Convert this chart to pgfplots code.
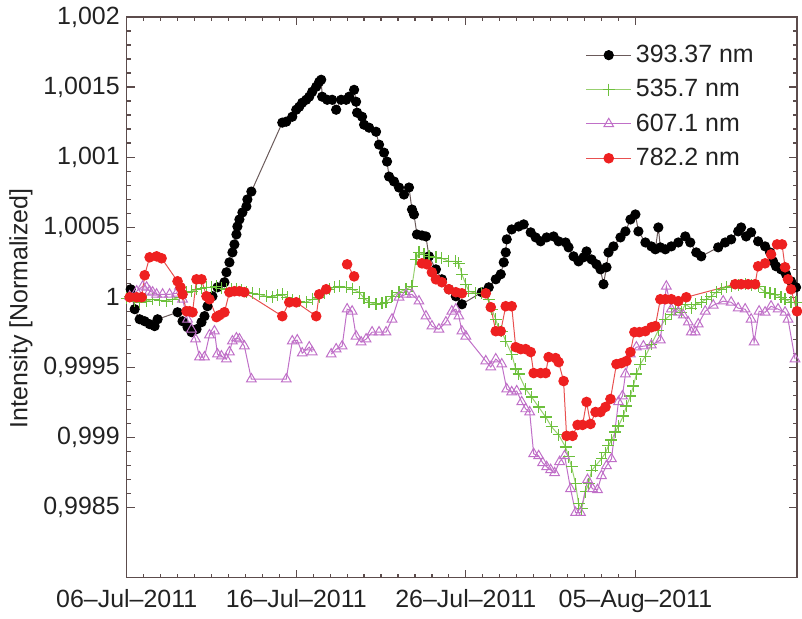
\documentclass[border=0pt]{standalone}
\usepackage{fontspec}
\setmainfont{Liberation Sans}
\usepackage{pgfplots}
\usepackage{pgfplotstable}
\pgfplotsset{compat=1.18}

\definecolor{axisgray}{HTML}{5C4C4C}
\definecolor{blkline}{HTML}{6A5A5A}
\definecolor{grnmark}{HTML}{6CC03C}
\definecolor{grnline}{HTML}{98D070}
\definecolor{vio}{HTML}{C070C8}
\definecolor{redmark}{HTML}{EE2020}
\definecolor{redline}{HTML}{E85050}
\definecolor{txt}{HTML}{222222}

% x = days since 06-Jul-2011, y = normalized intensity
\pgfplotstableread{
x y
0.235 1.000057
0.471 0.999915
0.765 0.999843
1.059 0.999829
1.353 0.999808
1.647 0.999794
1.824 0.999843
3.0 0.999893
3.294 0.999829
3.588 0.999786
3.824 0.999751
4.118 0.999772
4.412 0.999822
4.588 0.999865
4.765 0.999936
5.059 1.000007
5.353 1.000071
5.765 1.000107
5.882 1.000178
6.059 1.000249
6.235 1.000320
6.353 1.000377
6.471 1.000448
6.529 1.000505
6.647 1.000555
6.824 1.000605
7.059 1.000648
7.118 1.000698
7.353 1.000754
9.176 1.001246
9.412 1.001253
9.765 1.001288
10.0 1.001338
10.176 1.001359
10.353 1.001388
10.588 1.001409
10.765 1.001431
10.941 1.001466
11.176 1.001502
11.353 1.001537
11.471 1.001552
11.529 1.001431
11.824 1.001409
12.118 1.001409
12.353 1.001338
12.647 1.001409
12.941 1.001409
13.118 1.001431
13.412 1.001480
13.529 1.001395
13.588 1.001317
13.882 1.001288
14.0 1.001231
14.294 1.001210
14.706 1.001181
14.882 1.001089
15.176 1.001032
15.353 1.000968
15.471 1.000861
15.765 1.000826
16.059 1.000783
16.353 1.000733
16.647 1.000783
16.824 1.000626
16.941 1.000591
17.118 1.000448
17.412 1.000441
17.647 1.000434
17.824 1.000292
18.235 1.000199
18.588 1.000128
19.0 1.000057
19.412 1.000007
19.765 0.999950
20.941 1.000036
21.353 1.000071
21.765 1.000128
22.059 1.000164
22.235 1.000249
22.353 1.000320
22.412 1.000413
22.706 1.000484
23.118 1.000505
23.412 1.000520
23.824 1.000463
24.118 1.000427
24.412 1.000399
24.765 1.000427
25.176 1.000434
25.471 1.000399
25.882 1.000391
26.059 1.000356
26.353 1.000292
26.647 1.000256
26.941 1.000285
27.118 1.000327
27.412 1.000270
27.706 1.000235
27.941 1.000199
28.118 1.000093
28.294 1.000214
28.412 1.000320
28.706 1.000363
29.118 1.000427
29.412 1.000470
29.706 1.000555
30.0 1.000591
30.176 1.000470
30.588 1.000391
30.941 1.000363
31.176 1.000342
31.353 1.000498
31.471 1.000356
31.765 1.000342
32.118 1.000363
32.529 1.000391
32.941 1.000434
33.235 1.000391
33.588 1.000320
33.882 1.000292
34.882 1.000356
35.294 1.000391
35.647 1.000413
36.059 1.000470
36.235 1.000498
36.529 1.000434
36.824 1.000463
37.235 1.000399
37.647 1.000363
37.941 1.000320
38.118 1.000256
38.294 1.000221
38.588 1.000199
38.882 1.000164
39.176 1.000114
39.471 1.000071
}\caline

\pgfplotstableread{
x y
0 0.999993
0.176 1.000007
0.471 0.999972
0.765 0.999964
1.176 0.999972
1.529 0.999986
1.941 0.999979
2.353 0.999972
2.706 0.999986
3.118 1.0
3.529 1.000036
3.824 1.000043
4.118 1.000057
4.412 1.000064
4.706 1.000071
5.0 1.000071
5.294 1.000078
5.588 1.000064
5.882 1.000057
6.176 1.000057
6.471 1.000057
6.765 1.000050
7.059 1.000036
7.412 1.000028
7.824 1.000021
8.235 1.000007
8.588 1.0
8.882 1.000014
9.176 1.000021
9.471 1.0
9.765 0.999979
10.176 0.999972
10.588 0.999964
10.941 0.999986
11.353 1.0
11.647 1.000028
11.941 1.000057
12.235 1.000071
12.529 1.000078
12.941 1.000071
13.294 1.000057
13.706 1.000036
14.0 0.999993
14.294 0.999964
14.706 0.999950
15.059 0.999957
15.294 0.999964
15.647 1.000007
16.059 1.000036
16.471 1.000057
16.824 1.000078
17.059 1.000270
17.235 1.000320
17.529 1.000306
17.824 1.000292
18.235 1.000285
18.588 1.000278
19.0 1.000256
19.412 1.000256
19.588 1.000242
19.765 1.000164
20.0 1.000093
20.176 1.000043
20.588 1.000028
20.941 1.000028
21.353 0.999986
21.529 0.999915
21.765 0.999843
21.941 0.999772
22.118 0.999758
22.353 0.999687
22.706 0.999594
22.941 0.999488
23.118 0.999452
23.529 0.999345
23.882 0.999288
24.294 0.999217
24.706 0.999146
25.059 0.999075
25.471 0.999018
25.882 0.998932
26.059 0.998861
26.235 0.998790
26.471 0.998669
26.647 0.998527
26.824 0.998491
27.059 0.998612
27.235 0.998669
27.412 0.998762
27.647 0.998797
28.0 0.998847
28.235 0.998890
28.412 0.998940
28.588 0.998982
28.824 0.999039
29.0 0.999082
29.294 0.999153
29.471 0.999224
29.706 0.999295
29.882 0.999367
30.059 0.999452
30.294 0.999523
30.588 0.999580
30.941 0.999665
31.353 0.999765
31.765 0.999843
32.118 0.999879
32.353 0.999922
32.706 0.999893
32.941 0.999950
33.294 0.999922
33.529 0.999950
33.882 0.999964
34.176 0.999986
34.471 1.000007
34.765 1.000036
35.059 1.000057
35.353 1.000071
35.647 1.000078
36.059 1.000085
36.471 1.000093
36.824 1.000085
37.235 1.000078
37.647 1.000036
37.941 1.000028
38.235 1.000021
38.588 1.0
38.824 0.999986
39.176 0.999964
39.471 0.999964
}\fe

\pgfplotstableread{
x y
0.176 1.000007
0.588 1.000043
0.941 1.000078
1.176 1.000071
1.353 1.000043
1.529 1.000036
1.765 1.000021
2.118 1.000021
2.529 1.000021
2.941 1.000028
3.118 1.000078
3.294 0.999986
3.588 0.999843
3.824 0.999772
4.059 0.999701
4.294 0.999573
4.588 0.999573
4.882 0.999730
5.176 0.999758
5.353 0.999594
5.588 0.999580
5.882 0.999559
6.059 0.999609
6.235 0.999687
6.471 0.999708
6.647 0.999701
6.941 0.999651
7.353 0.999416
9.412 0.999416
9.765 0.999687
10.059 0.999694
10.353 0.999601
10.765 0.999644
10.941 0.999609
11.5 nan
12.059 0.999594
12.353 0.999630
12.706 0.999651
13.0 0.999915
13.294 0.999900
13.529 0.999722
13.824 0.999680
14.118 0.999701
14.471 0.999751
14.882 0.999751
15.294 0.999751
15.647 0.999843
16.059 1.0
16.471 1.000021
16.824 1.000021
17.235 0.999972
17.647 0.999865
18.0 0.999794
18.412 0.999772
18.824 0.999822
19.176 0.999900
19.412 0.999915
19.588 0.999865
19.765 0.999758
20.0 0.999722
21.176 0.999545
21.471 0.999502
21.765 0.999559
22.118 0.999523
22.412 0.999345
22.706 0.999324
23.0 0.999331
23.294 0.999253
23.529 0.999203
23.765 0.999181
24.0 0.998883
24.294 0.998868
24.529 0.998819
24.765 0.998790
25.0 0.998769
25.235 0.998747
25.529 0.998826
25.824 0.998868
26.176 0.998633
26.471 0.998463
26.765 0.998463
27.176 0.998698
27.471 0.998633
27.765 0.998626
28.0 0.998726
28.294 0.998797
28.588 0.998847
29.0 0.999253
29.235 0.999295
29.412 0.999452
29.706 0.999594
30.059 0.999644
30.471 0.999651
30.941 0.999658
31.471 0.999694
31.824 1.000078
32.118 0.999915
32.529 0.999893
32.824 0.999872
33.118 0.999822
33.294 0.999751
33.529 0.999751
33.706 0.999808
34.118 0.999900
34.588 0.999943
35.176 0.999972
35.647 0.999964
36.059 0.999922
36.471 0.999915
36.824 0.999843
37.0 0.999680
37.294 0.999900
37.647 0.999893
38.0 0.999936
38.412 0.999915
38.824 0.999893
39.0 0.999843
39.412 0.999559
}\srline

\pgfplotstableread{
x y
0.176 1.0
0.588 1.0
0.882 1.0
1.059 1.000157
1.353 1.000285
1.765 1.000292
2.059 1.000278
3.0 1.000114
3.176 1.000071
3.294 1.000021
3.529 0.999900
3.706 0.999900
3.882 0.999893
4.118 1.000128
4.412 1.000128
4.706 1.000007
4.882 0.999986
5.294 0.999858
5.471 0.999872
5.765 0.999893
6.059 1.000036
6.353 1.000043
6.647 1.000043
6.941 1.000036
9.176 0.999865
9.588 0.999964
10.0 0.999964
11.176 0.999865
11.353 1.000021
11.765 1.000057
12.3 nan
13.0 1.000235
13.412 1.000149
15.0 nan
17.412 1.000242
17.706 1.000235
18.0 1.000178
18.235 1.000128
18.588 1.000107
19.0 1.000057
19.412 1.000036
19.765 1.000028
21.176 1.000028
21.471 0.999929
21.765 0.999758
22.059 0.999758
22.353 0.999936
22.706 0.999936
22.941 0.999644
23.235 0.999630
23.529 0.999630
23.824 0.999609
24.0 0.999459
24.412 0.999459
24.706 0.999459
24.882 0.999573
25.294 0.999566
25.471 0.999537
25.765 0.999402
25.941 0.999011
26.294 0.999011
26.588 0.999089
26.882 0.999089
27.118 0.999253
27.353 0.999096
27.647 0.999181
27.941 0.999181
28.235 0.999217
28.529 0.999274
28.882 0.999523
29.176 0.999530
29.471 0.999545
29.706 0.999609
29.941 0.999751
30.235 0.999751
30.588 0.999758
30.941 0.999786
31.176 0.999794
31.471 0.999986
31.765 0.999986
32.118 0.999986
32.529 0.999972
33.0 1.0
35.882 1.000093
36.235 1.000093
36.647 1.000093
37.059 1.000093
37.235 1.000221
37.647 1.000242
38.0 1.000306
38.353 1.000377
38.647 1.000377
38.824 1.000214
39.0 1.000128
39.176 1.000057
39.529 0.999900
}\kline

\begin{document}
\begin{tikzpicture}
\begin{axis}[
  scale only axis,
  width=336pt, height=281pt,
  xmin=0, xmax=39.53,
  ymin=0.998, ymax=1.002,
  unbounded coords=jump,
  font=\fontsize{12.5}{14}\selectfont,
  every tick label/.append style={text=txt},
  xticklabel style={yshift=-2.5pt},
  xtick={0,10,20,30},
  xticklabels={06–Jul–2011,16–Jul–2011,26–Jul–2011,05–Aug–2011},
  minor x tick num=9,
  ytick={0.9985,0.999,0.9995,1,1.0005,1.001,1.0015,1.002},
  yticklabels={{0,9985},{0,999},{0,9995},1,{1,0005},{1,001},{1,0015},{1,002}},
  minor y tick num=4,
  tick align=inside,
  major tick length=4pt, minor tick length=2pt,
  every tick/.style={draw=axisgray, line width=0.6pt},
  axis line style={draw=axisgray, line width=0.8pt},
  ylabel={Intensity [Normalized]},
  ylabel style={text=txt, at={(axis description cs:-0.13,0.48)}, anchor=south},
  legend style={at={(axis description cs:0.675,0.965)}, anchor=north west,
    draw=none, fill=white, text=txt, row sep=3pt,
    font=\fontsize{12.5}{14}\selectfont},
  legend cell align=left,
  legend image code/.code={\draw[mark repeat=2,mark phase=2] plot coordinates {(0cm,0cm) (0.4cm,0cm) (0.8cm,0cm)};},
]
\addplot[blkline, line width=0.5pt, mark=*, mark size=2.3pt,
  mark options={draw=black, fill=black}] table {\caline};
\addlegendentry{393.37 nm}
\addplot[grnline, line width=0.5pt, mark=+, mark size=3pt,
  mark options={draw=grnmark, line width=0.6pt}] table {\fe};
\addlegendentry{535.7 nm}
\addplot[vio, line width=0.5pt, mark=triangle, mark size=2.8pt,
  mark options={draw=vio, line width=0.5pt}] table {\srline};
\addlegendentry{607.1 nm}
\addplot[redline, line width=0.5pt, mark=*, mark size=2.4pt,
  mark options={draw=redmark, fill=redmark}] table {\kline};
\addlegendentry{782.2 nm}
\end{axis}
\path (current axis.south west) ++(-63.5pt,-19pt);
\path (current axis.north east) ++(1.5pt,8pt);
\end{tikzpicture}
\end{document}
